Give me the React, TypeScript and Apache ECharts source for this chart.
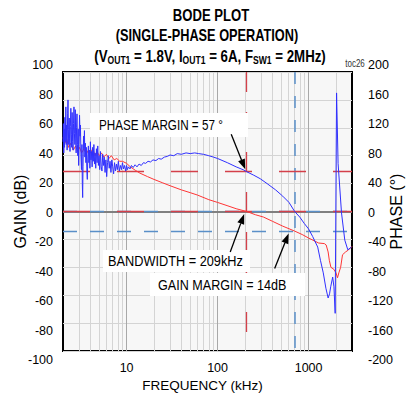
import React, { useEffect, useRef } from "react";
import * as echarts from "echarts";

// ---- data ----
const gainFreq = [2, 2.1, 2.2, 2.3, 2.45, 2.6, 2.75, 2.9, 3.05, 3.2, 3.4, 3.6, 3.8, 4.0, 4.25, 4.5, 4.75, 5.0, 5.3, 5.6, 6.0, 6.4, 6.8, 7.3, 7.8, 8.4, 9.0, 10, 11, 12.5, 14, 17, 20, 25, 30, 40, 50, 60, 80, 100, 130, 160, 209, 260, 320, 400, 520, 700, 850, 1000, 1290, 1490, 1560, 1640, 1690, 1760, 1900, 2000, 2080, 2150, 2250, 2360, 2550, 2740, 3000];
const gainDb = [53, 49, 52, 46, 49, 44, 47, 43, 46, 42, 45, 41, 44, 42, 45, 40, 43, 40, 42, 39, 41, 38, 40, 37, 38, 36, 36, 34.5, 32, 29.5, 27.5, 25, 23, 20.5, 18.5, 15.5, 13.5, 11.8, 8.5, 6.5, 4, 2, 0, -2.3, -4, -7, -10.5, -14, -16.5, -19, -22.6, -23, -24, -29, -35, -40, -41.5, -44, -47.5, -44, -40, -31, -29, -27.6, -25];

// phase points: [frequency kHz, phase deg]
const phasePoints: number[][] = [
  [2.0, 100], [2.02, 126], [2.04, 84], [2.06, 118], [2.08, 92], [2.1, 135], [2.12, 100], [2.15, 150], [2.17, 96], [2.19, 124],
  [2.22, 88], [2.25, 140], [2.27, 160], [2.29, 118], [2.31, 96], [2.34, 134], [2.36, 104], [2.39, 86], [2.41, 122], [2.44, 148],
  [2.47, 110], [2.49, 92], [2.52, 142], [2.55, 100], [2.58, 88], [2.61, 126], [2.64, 150], [2.67, 112], [2.7, 96], [2.73, 146],
  [2.76, 104], [2.79, 84], [2.82, 120], [2.85, 140], [2.88, 96], [2.91, 80], [2.94, 118], [2.97, 66], [3.0, 96], [3.04, 138],
  [3.08, 108], [3.11, 124], [3.15, 80], [3.19, 60], [3.23, 96], [3.26, 40], [3.29, 20], [3.32, 64], [3.36, 108], [3.4, 90],
  [3.44, 116], [3.48, 78], [3.52, 98], [3.57, 70], [3.61, 92], [3.66, 58], [3.7, 46], [3.75, 80], [3.8, 94], [3.85, 70],
  [3.9, 88], [3.95, 62], [4.0, 100], [4.06, 74], [4.12, 86], [4.18, 64], [4.24, 92], [4.3, 72], [4.37, 96], [4.44, 68],
  [4.51, 84], [4.58, 62], [4.66, 90], [4.74, 70], [4.82, 94], [4.9, 66], [4.98, 80], [5.07, 60], [5.16, 86], [5.26, 64],
  [5.36, 58], [5.46, 82], [5.57, 66], [5.68, 78], [5.8, 56], [5.92, 74], [6.04, 50], [6.17, 70], [6.3, 80], [6.44, 62],
  [6.58, 72], [6.73, 56], [6.88, 74], [7.04, 64], [7.2, 54], [7.37, 70], [7.55, 58], [7.73, 68], [7.92, 60], [8.12, 72],
  [8.33, 58], [8.55, 66], [8.78, 60], [9.01, 70], [9.25, 61], [9.5, 66], [9.76, 58], [10.0, 66], [10.2, 60], [10.5, 64],
  [10.9, 61], [11.3, 66], [11.8, 63], [12.4, 67], [13.0, 64], [13.7, 68], [14.5, 66], [15.3, 70], [16.2, 69], [17.2, 72],
  [18.3, 71], [19.5, 74], [21, 73], [22.5, 76], [24, 75], [26, 78], [28, 79], [30, 81], [33, 80], [36, 83],
  [40, 82], [45, 84], [50, 83], [56, 84], [62, 83], [70, 82], [80, 80], [90, 78], [100, 76], [128, 70],
  [160, 64], [194, 59.5], [209, 57], [250, 52], [294, 47], [350, 40], [434, 31], [520, 22], [609, 13], [703, 0],
  [800, -8], [895, -17], [1000, -25], [1110, -36], [1260, -51], [1350, -70], [1450, -88], [1550, -110], [1640, -124], [1700, -118],
  [1750, -108], [1840, -94], [1900, -108], [1960, -146], [2030, 170], [2110, 69], [2300, -2], [2500, -41], [2700, -55], [2950, -51],
];

const gainTicks = [-100, 100, 20];   // min, max, step (dB)
const phaseTicks = [-200, 200, 40];  // min, max, step (deg)
const freqRange = [2, 3000];          // kHz
const minorFreqLines = [3, 4, 5, 6, 7, 8, 9, 20, 30, 40, 50, 60, 70, 80, 90, 200, 300, 400, 500, 600, 700, 800, 900, 2000];
const majorFreqLines = [10, 100, 1000];

const crossoverFreq = 209;  // kHz  (bandwidth)
const phaseMargin = 57;     // deg
const phaseCrossFreq = 703; // kHz
const gainMargin = -14;     // dB

const FONT = "'Liberation Sans', Arial, sans-serif";

function arrow(tail: number[], tip: number[]) {
  const dx = tip[0] - tail[0];
  const dy = tip[1] - tail[1];
  const len = Math.hypot(dx, dy);
  const ux = dx / len, uy = dy / len;
  const hl = 10, hw = 3.6;
  const bx = tip[0] - ux * hl, by = tip[1] - uy * hl;
  return [
    { type: "line", z: 100, shape: { x1: tail[0], y1: tail[1], x2: bx, y2: by }, style: { stroke: "#000", lineWidth: 1.3 } },
    { type: "polygon", z: 100, shape: { points: [[tip[0], tip[1]], [bx - uy * hw, by + ux * hw], [bx + uy * hw, by - ux * hw]] }, style: { fill: "#000" } },
  ];
}

function box(x: number, y: number, w: number, h: number, tx: number, text: string, sx: number) {
  return [
    { type: "rect", z: 90, shape: { x, y, width: w, height: h }, style: { fill: "#fff" } },
    { type: "text", z: 91, x: tx, y: y + h / 2, scaleX: sx, style: { text, fill: "#000", fontSize: 15, fontFamily: FONT, align: "left", verticalAlign: "middle", textAlign: "left", textVerticalAlign: "middle" } },
  ];
}

export default function App() {
  const ref = useRef<HTMLDivElement>(null);
  useEffect(() => {
    const chart = echarts.init(ref.current!, null, { renderer: "svg" });
    const gainData = gainFreq.map((f, i) => [f, gainDb[i]]);
    const phaseData = phasePoints.map((p) => [p[0], p[1]]);
    const hideAxis = { axisLine: { show: false }, axisTick: { show: false } };
    const ml = (data: any[], lineStyle: any, z = 2) => ({
      silent: true, symbol: ["none", "none"], label: { show: false }, lineStyle, data, z,
      emphasis: { disabled: true },
    });
    const option: any = {
      animation: false,
      textStyle: { fontFamily: FONT },
      grid: [
        { left: 63, right: 51, top: 72, bottom: 51, show: true, backgroundColor: "#f7f7f7", borderColor: "#000", borderWidth: 2 },
        { left: 63, right: 51, top: 65, bottom: 42, show: false },
      ],
      xAxis: [
        {
          type: "log", logBase: 10, gridIndex: 0, min: freqRange[0], max: freqRange[1],
          ...hideAxis, splitLine: { show: false },
          axisLabel: {
            margin: 10, color: "#000", fontSize: 12.5, fontFamily: FONT,
            formatter: (v: number) => {
              const l = Math.log10(v);
              return Math.abs(l - Math.round(l)) < 1e-6 && Math.round(l) >= 1 ? String(Math.round(Math.pow(10, Math.round(l)))) : "";
            },
          },
          name: "FREQUENCY (kHz)", nameLocation: "middle", nameGap: 25,
          nameTextStyle: { color: "#000", fontSize: 13.5, fontFamily: FONT, padding: [0, 10, 0, 0] },
        },
        { type: "value", gridIndex: 1, show: false, min: 0, max: 1 },
      ],
      yAxis: [
        {
          type: "value", gridIndex: 0, min: gainTicks[0], max: gainTicks[1], interval: gainTicks[2], position: "left",
          ...hideAxis, axisLabel: { show: false },
          splitLine: { show: true, lineStyle: { color: "#d4d4d4", width: 1 } },
          name: "GAIN (dB)", nameLocation: "middle", nameGap: 35, nameRotate: 90,
          nameTextStyle: { color: "#000", fontSize: 16, fontFamily: FONT },
        },
        {
          type: "value", gridIndex: 0, min: phaseTicks[0], max: phaseTicks[1], interval: phaseTicks[2], position: "right",
          ...hideAxis, axisLabel: { show: false }, splitLine: { show: false },
          name: "PHASE (°)", nameLocation: "middle", nameGap: 36, nameRotate: 90,
          nameTextStyle: { color: "#000", fontSize: 16, fontFamily: FONT },
        },
        {
          type: "value", gridIndex: 1, min: gainTicks[0], max: gainTicks[1], interval: gainTicks[2], position: "left",
          ...hideAxis, splitLine: { show: false },
          axisLabel: { margin: 10, color: "#000", fontSize: 12.5, fontFamily: FONT },
        },
        {
          type: "value", gridIndex: 1, min: phaseTicks[0], max: phaseTicks[1], interval: phaseTicks[2], position: "right",
          ...hideAxis, splitLine: { show: false },
          axisLabel: { margin: 7, color: "#000", fontSize: 12.5, fontFamily: FONT },
        },
      ],
      series: [
        {
          name: "grid", type: "line", xAxisIndex: 0, yAxisIndex: 0, data: [], z: 1, silent: true,
          markLine: {
            ...ml(
              [
                ...minorFreqLines.map((v) => ({ xAxis: v, lineStyle: { color: "#d4d4d4", width: 1, type: "solid" } })),
                ...majorFreqLines.map((v) => ({ xAxis: v, lineStyle: { color: "#a8a8a8", width: 1, type: "solid" } })),
              ],
              { color: "#d4d4d4", width: 1, type: "solid" }, 1),
          },
        },
        {
          name: "zero", type: "line", xAxisIndex: 0, yAxisIndex: 0, data: [], z: 2, silent: true,
          markLine: ml([[{ coord: [freqRange[0], 0] }, { coord: [freqRange[1], 0] }]], { color: "#808080", width: 2, type: "solid" }, 2),
        },
        {
          name: "blueRefs", type: "line", xAxisIndex: 0, yAxisIndex: 0, data: [], z: 3, silent: true,
          markLine: ml([
            [{ coord: [freqRange[0], gainMargin] }, { coord: [freqRange[1], gainMargin] }],
            [{ coord: [freqRange[0], 0] }, { coord: [freqRange[1], 0] }],
          ], { color: "#5a8fc8", width: 1.3, type: [14, 13] }, 3),
        },
        {
          name: "blueVert", type: "line", xAxisIndex: 0, yAxisIndex: 0, data: [], z: 3, silent: true,
          markLine: ml([
            [{ coord: [phaseCrossFreq, gainTicks[1]] }, { coord: [phaseCrossFreq, gainTicks[0]] }],
          ], { color: "#5a8fc8", width: 1.5, type: [12, 12] }, 3),
        },
        {
          name: "redRefs", type: "line", xAxisIndex: 0, yAxisIndex: 1, data: [], z: 4, silent: true,
          markLine: ml([
            [{ coord: [freqRange[0], phaseMargin] }, { coord: [freqRange[1], phaseMargin] }],
            [{ coord: [freqRange[0], 0] }, { coord: [freqRange[1], 0] }],
          ], { color: "#d4404a", width: 1.3, type: [27, 27] }, 4),
        },
        {
          name: "redVert", type: "line", xAxisIndex: 0, yAxisIndex: 1, data: [], z: 4, silent: true,
          markLine: ml([
            [{ coord: [crossoverFreq, phaseTicks[1]] }, { coord: [crossoverFreq, phaseTicks[0]] }],
          ], { color: "#d4404a", width: 1.3, type: [20, 20] }, 4),
        },
        {
          name: "Gain", type: "line", xAxisIndex: 0, yAxisIndex: 0, data: gainData, z: 6,
          showSymbol: false, silent: true, lineStyle: { color: "#ff3535", width: 1 },
        },
        {
          name: "Phase", type: "line", xAxisIndex: 0, yAxisIndex: 1, data: phaseData, z: 7,
          showSymbol: false, silent: true, lineStyle: { color: "#3030ff", width: 1 },
        },
      ],
    };
    chart.setOption(option);

    const px = (yAxisIndex: number, v: number[]) => chart.convertToPixel({ xAxisIndex: 0, yAxisIndex }, v) as number[];
    const pmPt = px(1, [crossoverFreq, phaseMargin]);
    const bwPt = px(0, [crossoverFreq, 0]);
    const gmPt = px(0, [phaseCrossFreq, gainMargin]);
    const pmTip = [pmPt[0] - 1.5, pmPt[1] - 2.5];
    const bwTip = [bwPt[0] - 2.5, bwPt[1] + 2.5];
    const gmTip = [gmPt[0] - 6, gmPt[1] + 2.5];

    const titleFont = { fontFamily: FONT, fontWeight: "bold", fontSize: 17, fill: "#000" };
    const center = { align: "center", verticalAlign: "middle", textAlign: "center", textVerticalAlign: "middle" };
    const graphic: any[] = [
      { type: "text", z: 100, x: 211, y: 15, scaleX: 0.77, style: { text: "BODE PLOT", ...titleFont, ...center } },
      { type: "text", z: 100, x: 207, y: 35, scaleX: 0.75, style: { text: "(SINGLE-PHASE OPERATION)", ...titleFont, ...center } },
      {
        type: "text", z: 100, x: 210, y: 56, scaleX: 0.78,
        style: {
          text: "{a|(V}{s|OUT1}{a| = 1.8V, I}{s|OUT1}{a| = 6A, F}{s|SW1}{a| = 2MHz)}",
          ...center,
          rich: {
            a: { fontFamily: FONT, fontWeight: "bold", fontSize: 17, fill: "#000", color: "#000", lineHeight: 20, verticalAlign: "middle" },
            s: { fontFamily: FONT, fontWeight: "bold", fontSize: 11, fill: "#000", color: "#000", lineHeight: 10, verticalAlign: "bottom" },
          },
        },
      },
      { type: "text", z: 100, x: 355, y: 64, scaleX: 0.8, style: { text: "toc26", fontFamily: FONT, fontSize: 10, fill: "#333", ...center } },
      ...box(90, 113, 158, 24, 99, "PHASE MARGIN = 57 °", 0.78),
      ...box(103, 250, 147, 22, 108, "BANDWIDTH = 209kHz", 0.85),
      ...box(150, 273, 155, 23, 158, "GAIN MARGIN = 14dB", 0.84),
      ...arrow([pmTip[0] - 14, pmTip[1] - 35], pmTip),
      ...arrow([bwTip[0] - 14, bwTip[1] + 38], bwTip),
      ...arrow([gmTip[0] - 14, gmTip[1] + 35], gmTip),
    ];
    chart.setOption({ graphic });
    return () => chart.dispose();
  }, []);
  return <div ref={ref} style={{ position: "absolute", left: 0, top: 0, width: 412, height: 402 }} />;
}
